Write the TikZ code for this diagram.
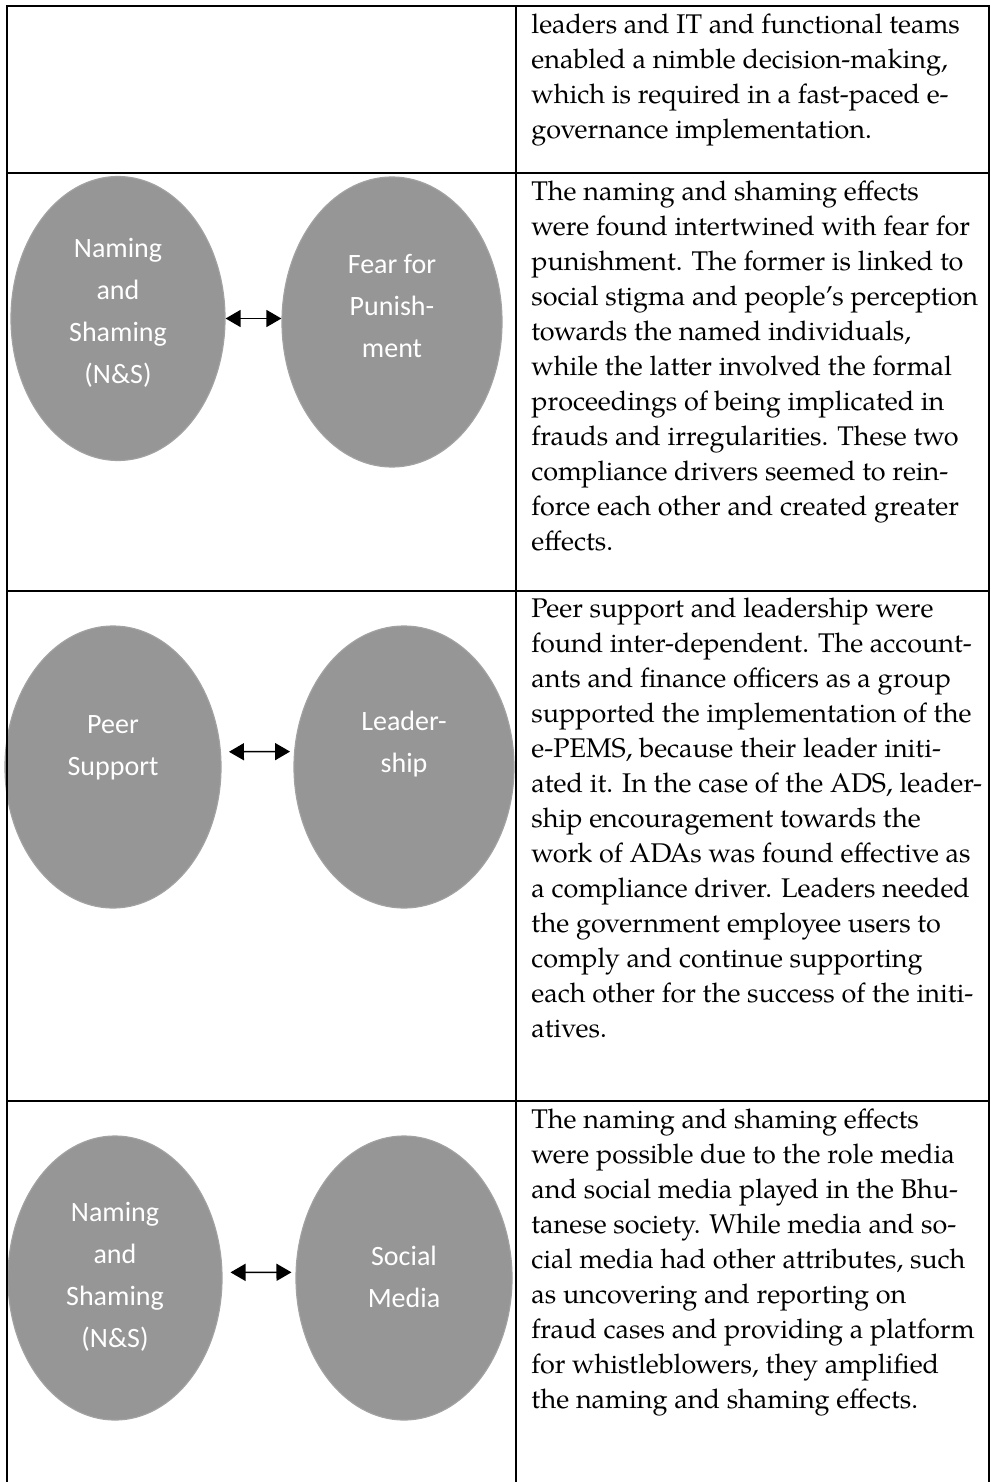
\documentclass[tikz,border=0pt]{standalone}
\usepackage{fontspec}
\setmainfont{texgyrepagella}[Extension=.otf,UprightFont=*-regular,BoldFont=*-bold,ItalicFont=*-italic,BoldItalicFont=*-bolditalic]
\newfontfamily\ovalfont{Carlito}
\usetikzlibrary{arrows.meta,shapes.geometric}
\definecolor{ovalfill}{RGB}{150,150,150}
\definecolor{ovaledge}{RGB}{162,162,162}
\begin{document}
\begin{tikzpicture}[x=0.5pt,y=-0.5pt,
  rule/.style={line width=1pt,line cap=rect},
  oval/.style={ellipse,fill=ovalfill,draw=ovaledge,line width=0.6pt,inner sep=0pt},
  ovaltext/.style={anchor=north,inner sep=0pt,align=center,text=white,
    font=\ovalfont\fontsize{14}{21}\selectfont},
  celltext/.style={anchor=north west,inner sep=0pt,align=left,
    font=\fontsize{13.5}{17.5}\selectfont},
  link/.style={line width=0.75pt,{Triangle[length=7.5pt,width=8.5pt]}-{Triangle[length=7.5pt,width=8.5pt]}}]
\useasboundingbox (0,0) rectangle (990,1482);

% ---- ovals, row 2 ----
\node[oval,minimum width=107pt,minimum height=142pt] (ns1) at (118,318.5) {};
\node[oval,minimum width=110pt,minimum height=145pt] (fp) at (392,322) {};
\node[ovaltext] (ns1t) at (118,227.6) {\strut Naming\\and\\Shaming\\(N\&S)};
\node[ovaltext] (fpt) at (392,243.6) {\strut Fear for\\Punish-\\ment};
\draw[link] (ns1.east) -- (ns1.east -| fp.west);

% ---- ovals, row 3 ----
\node[oval,minimum width=108pt,minimum height=141pt] (ps) at (113,767) {};
\node[oval,minimum width=110pt,minimum height=141pt] (ld) at (404,767) {};
\node[ovaltext] (pst) at (113,703.6) {\strut Peer\\Support};
\node[ovaltext] (ldt) at (404,700.6) {\strut Leader-\\ship};
\draw[link,shorten <=4pt,shorten >=2pt] (ps.8) -- (ld.172);

% ---- ovals, row 4 ----
\node[oval,minimum width=107pt,minimum height=142pt] (ns2) at (115,1278) {};
\node[oval,minimum width=108pt,minimum height=142pt] (sm) at (404,1278) {};
\node[ovaltext] (ns2t) at (115,1191.6) {\strut Naming\\and\\Shaming\\(N\&S)};
\node[ovaltext] (smt) at (404,1235.6) {\strut Social\\Media};
\draw[link,shorten <=4pt,shorten >=2pt] (ns2.3) -- (sm.177);

% ---- table rules ----
\draw[rule] (6.5,1482) -- (6.5,6) -- (989,6) -- (989,1482);
\draw[rule] (516,6) -- (516,1482);
\draw[rule] (6.5,173) -- (989,173);
\draw[rule] (6.5,591) -- (989,591);
\draw[rule] (6.5,1101) -- (989,1101);

% ---- right-hand column text ----
\node[celltext] (c1) at (531,8.5) {\strut leaders and IT and functional teams\\
enabled a nimble decision-making,\\
which is required in a fast-paced e-\\
governance implementation.};
\node[celltext] (c2) at (531,175.5) {\strut The naming and shaming effects\\
were found intertwined with fear for\\
punishment. The former is linked to\\
social stigma and people’s perception\\
towards the named individuals,\\
while the latter involved the formal\\
proceedings of being implicated in\\
frauds and irregularities. These two\\
compliance drivers seemed to rein-\\
force each other and created greater\\
effects.};
\node[celltext] (c3) at (531,592.5) {\strut Peer support and leadership were\\
found inter-dependent. The account-\\
ants and finance officers as a group\\
supported the implementation of the\\
e-PEMS, because their leader initi-\\
ated it. In the case of the ADS, leader-\\
ship encouragement towards the\\
work of ADAs was found effective as\\
a compliance driver. Leaders needed\\
the government employee users to\\
comply and continue supporting\\
each other for the success of the initi-\\
atives.};
\node[celltext] (c4) at (531,1103.5) {\strut The naming and shaming effects\\
were possible due to the role media\\
and social media played in the Bhu-\\
tanese society. While media and so-\\
cial media had other attributes, such\\
as uncovering and reporting on\\
fraud cases and providing a platform\\
for whistleblowers, they amplified\\
the naming and shaming effects.};
\end{tikzpicture}
\end{document}
